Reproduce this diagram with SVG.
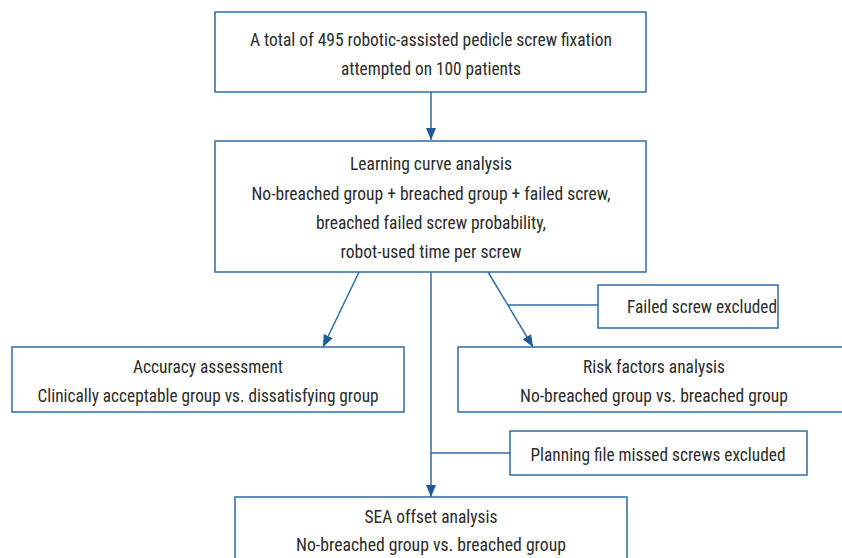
<svg xmlns="http://www.w3.org/2000/svg" width="842" height="558" viewBox="0 0 842 558">
<defs>
<marker id="ah" viewBox="0 0 12 10" refX="12" refY="5" markerWidth="12" markerHeight="10" markerUnits="userSpaceOnUse" orient="auto">
<path d="M0,0 L12,5 L0,10 Z" fill="#1d5a97"/>
</marker>
</defs>
<style>
.box{fill:#fff;stroke:#2f6ca5;stroke-width:1.5}
.ln{fill:none;stroke:#2f6ca5;stroke-width:1.5}
text{font-family:"Liberation Sans Narrow","Roboto Condensed","Liberation Sans",sans-serif;font-size:19px;fill:#2b2b2b;text-anchor:middle}
</style>
<rect width="842" height="558" fill="#fff"/>
<g id="connectors">
<line class="ln" x1="431" y1="92" x2="431" y2="140" marker-end="url(#ah)"/>
<line class="ln" x1="359" y1="272" x2="323" y2="347" marker-end="url(#ah)"/>
<line class="ln" x1="488" y1="272" x2="533" y2="347" marker-end="url(#ah)"/>
<line class="ln" x1="431" y1="272" x2="431" y2="497" marker-end="url(#ah)"/>
<line class="ln" x1="508" y1="305" x2="598" y2="305"/>
<line class="ln" x1="431" y1="453" x2="510" y2="453"/>
</g>
<g id="n1">
<rect class="box" x="215" y="12" width="431" height="80"/>
<text x="431" y="46" textLength="362" lengthAdjust="spacingAndGlyphs">A total of 495 robotic-assisted pedicle screw fixation</text>
<text x="431" y="75" textLength="180" lengthAdjust="spacingAndGlyphs">attempted on 100 patients</text>
</g>
<g id="n2">
<rect class="box" x="215" y="141" width="431" height="131"/>
<text x="431" y="170" textLength="162" lengthAdjust="spacingAndGlyphs">Learning curve analysis</text>
<text x="431" y="200" textLength="359" lengthAdjust="spacingAndGlyphs">No-breached group + breached group + failed screw,</text>
<text x="431" y="229" textLength="230" lengthAdjust="spacingAndGlyphs">breached failed screw probability,</text>
<text x="431" y="258" textLength="181" lengthAdjust="spacingAndGlyphs">robot-used time per screw</text>
</g>
<g id="n3">
<rect class="box" x="598" y="285" width="180" height="43"/>
<text x="702" y="313" textLength="150" lengthAdjust="spacingAndGlyphs">Failed screw excluded</text>
</g>
<g id="n4">
<rect class="box" x="12" y="347" width="392" height="65"/>
<text x="208" y="373" textLength="150" lengthAdjust="spacingAndGlyphs">Accuracy assessment</text>
<text x="208" y="402" textLength="341" lengthAdjust="spacingAndGlyphs">Clinically acceptable group vs. dissatisfying group</text>
</g>
<g id="n5">
<rect class="box" x="458" y="347" width="390" height="65"/>
<text x="654" y="373" textLength="142" lengthAdjust="spacingAndGlyphs">Risk factors analysis</text>
<text x="654" y="402" textLength="268" lengthAdjust="spacingAndGlyphs">No-breached group vs. breached group</text>
</g>
<g id="n6">
<rect class="box" x="510" y="431" width="297" height="44"/>
<text x="658" y="461" textLength="255" lengthAdjust="spacingAndGlyphs">Planning file missed screws excluded</text>
</g>
<g id="n7">
<rect class="box" x="235" y="497" width="392" height="70"/>
<text x="431" y="523" textLength="133" lengthAdjust="spacingAndGlyphs">SEA offset analysis</text>
<text x="431" y="551" textLength="270" lengthAdjust="spacingAndGlyphs">No-breached group vs. breached group</text>
</g>
</svg>
